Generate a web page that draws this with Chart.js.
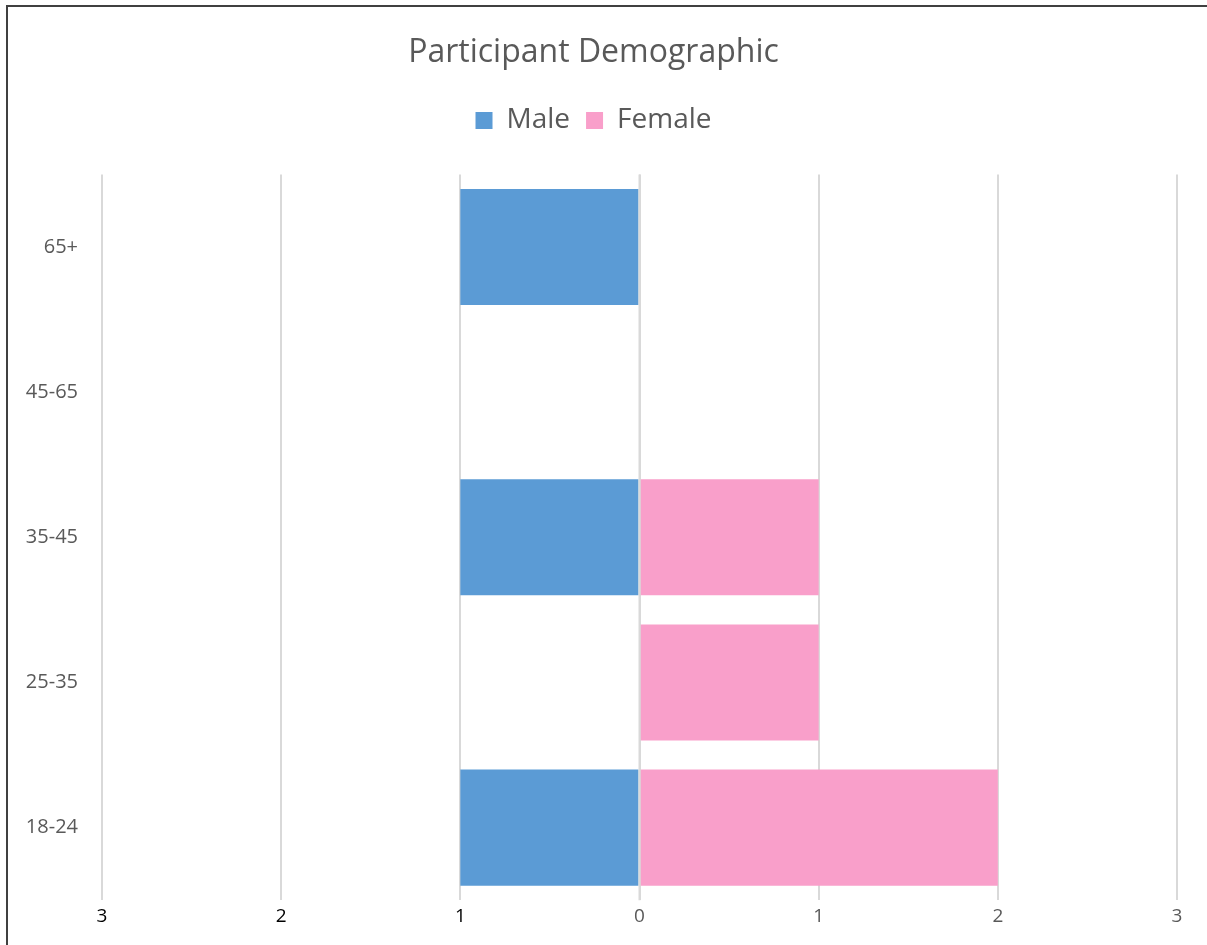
<!DOCTYPE html>
<html>
<head>
<meta charset="utf-8">
<script src="https://cdn.jsdelivr.net/npm/chart.js@4/dist/chart.umd.min.js"></script>
<style>
  html, body { margin: 0; padding: 0; background: #fff; }
  .frame {
    position: absolute; left: 6px; top: 5px; width: 1201px; height: 940px;
    border-left: 2px solid #404040; border-top: 2px solid #404040;
  }
  .box { position: absolute; left: 2px; top: 2px; width: 1199px; height: 938px; }
</style>
</head>
<body>
<div class="frame"><div class="box"><canvas id="myChart"></canvas></div></div>
<script>
// groupes d'age, de haut en bas
let ageGroups = ["65+", "45-65", "35-45", "25-35", "18-24"];
let maleCounts = [1, 0, 1, 0, 1];
let femaleCounts = [0, 0, 1, 1, 2];
let axisTicks = [-3, -2, -1, 0, 1, 2, 3];

let gris = "#595959";

// ligne du zero par dessus les barres
let zeroLine = {
  id: "zeroLine",
  afterDatasetsDraw(chart) {
    let x = chart.scales.x.getPixelForValue(0);
    let a = chart.chartArea;
    let ctx = chart.ctx;
    ctx.save();
    ctx.strokeStyle = "#d9d9d9";
    ctx.lineWidth = 2;
    ctx.beginPath();
    ctx.moveTo(x, a.top);
    ctx.lineTo(x, a.bottom);
    ctx.stroke();
    ctx.restore();
  }
};

// espace sous la legende
let legendMargin = {
  id: "legendMargin",
  beforeInit(chart) {
    let fit = chart.legend.fit;
    chart.legend.fit = function () {
      fit.bind(chart.legend)();
      this.height += 30;
    };
  }
};

const ctx = document.getElementById("myChart");
new Chart(ctx, {
  type: "bar",
  data: {
    labels: ageGroups,
    datasets: [
      {
        label: "Male",
        data: maleCounts.map(v => -v),
        backgroundColor: "#5B9BD5",
        borderWidth: 0,
        barPercentage: 0.8,
        categoryPercentage: 1
      },
      {
        label: "Female",
        data: femaleCounts,
        backgroundColor: "#F99FCA",
        borderWidth: 0,
        barPercentage: 0.8,
        categoryPercentage: 1
      }
    ]
  },
  options: {
    indexAxis: "y",
    responsive: true,
    maintainAspectRatio: false,
    animation: false,
    layout: { padding: { left: 0, right: 32, top: 10, bottom: 14 } },
    plugins: {
      title: {
        display: true,
        text: "Participant Demographic",
        color: gris,
        font: { family: "Open Sans", size: 32, weight: "normal" },
        padding: { top: 15, bottom: 18 }
      },
      legend: {
        display: true,
        labels: {
          color: gris,
          boxWidth: 17,
          boxHeight: 17,
          padding: 16,
          font: { family: "Open Sans", size: 28 }
        }
      },
      tooltip: { enabled: false }
    },
    scales: {
      x: {
        stacked: true,
        min: -3,
        max: 3,
        afterBuildTicks(scale) {
          scale.ticks = axisTicks.map(v => ({ value: v }));
        },
        grid: { color: "#d9d9d9", lineWidth: 2, drawTicks: false },
        border: { display: false },
        ticks: {
          padding: 5,
          font: { family: "Open Sans", size: 19 },
          color: c => (c.tick && c.tick.value < 0 ? "#000000" : gris),
          callback: v => Math.abs(v)
        }
      },
      y: {
        stacked: true,
        grid: { display: false, drawTicks: false },
        border: { display: false },
        ticks: {
          padding: 24,
          color: gris,
          font: { family: "Open Sans", size: 20 }
        },
        afterFit(scale) {
          scale.width = 92;
        }
      }
    }
  },
  plugins: [zeroLine, legendMargin]
});
</script>
</body>
</html>
